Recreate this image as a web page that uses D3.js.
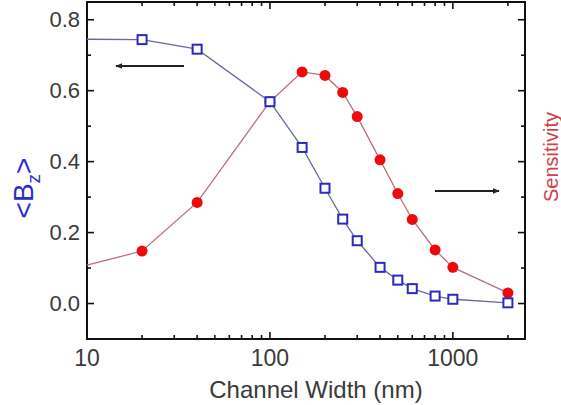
<!DOCTYPE html>
<html>
<head>
<meta charset="utf-8">
<script src="https://cdn.jsdelivr.net/npm/d3@7"></script>
<style>
  body { margin: 0; background: #fff; }
  text { font-family: "Liberation Sans", Arial, sans-serif; }
</style>
</head>
<body>
<svg id="chart" width="561" height="405"></svg>
<script>
// channel widths (nm) and the two series
let widths = [10, 20, 40, 100, 150, 200, 250, 300, 400, 500, 600, 800, 1000, 2000];
let bzValues = [0.745, 0.744, 0.717, 0.569, 0.440, 0.325, 0.238, 0.177, 0.102, 0.066, 0.042, 0.021, 0.012, 0.002];
let sensValues = [0.108, 0.148, 0.285, 0.569, 0.653, 0.643, 0.595, 0.527, 0.405, 0.310, 0.237, 0.151, 0.102, 0.030];
let xTickLabels = [10, 100, 1000];
let yTickLabels = [0.0, 0.2, 0.4, 0.6, 0.8];

let svg = d3.select("#chart");
let plotLeft = 87, plotRight = 525, plotTop = 2, plotBottom = 339;

let xScale = d3.scaleLog().domain([10, 2480]).range([plotLeft, plotRight]);
let yScale = d3.scaleLinear().domain([-0.1, 0.85]).range([plotBottom, plotTop]);

let bz = widths.map((w, i) => ({ w: w, v: bzValues[i] }));
let sens = widths.map((w, i) => ({ w: w, v: sensValues[i] }));

// minor tick positions on x: 20..90, 200..900, 2000
let xMinor = [];
for (let dec of [10, 100, 1000]) {
    for (let k = 2; k <= 9; k++) {
        if (dec * k <= 2480) xMinor.push(dec * k);
    }
}
let yMinor = d3.range(-0.1, 0.85, 0.1).map(v => +v.toFixed(1)).filter(v => yTickLabels.indexOf(v) < 0);

// ticks (inward) on all four sides
let ticks = svg.append("g").attr("stroke", "#111").attr("stroke-width", 1.6);
function xTicks(y, dir) {
    ticks.selectAll(null).data(xTickLabels).enter().append("line")
        .attr("x1", d => xScale(d)).attr("x2", d => xScale(d))
        .attr("y1", y).attr("y2", y + dir * 7);
    ticks.selectAll(null).data(xMinor).enter().append("line")
        .attr("x1", d => xScale(d)).attr("x2", d => xScale(d))
        .attr("y1", y).attr("y2", y + dir * 4);
}
function yTicks(x, dir) {
    ticks.selectAll(null).data(yTickLabels).enter().append("line")
        .attr("y1", d => yScale(d)).attr("y2", d => yScale(d))
        .attr("x1", x).attr("x2", x + dir * 7);
    ticks.selectAll(null).data(yMinor).enter().append("line")
        .attr("y1", d => yScale(d)).attr("y2", d => yScale(d))
        .attr("x1", x).attr("x2", x + dir * 4);
}
xTicks(plotBottom, -1);
xTicks(plotTop, 1);
yTicks(plotLeft, 1);
yTicks(plotRight, -1);

svg.append("rect")
    .attr("x", plotLeft).attr("y", plotTop)
    .attr("width", plotRight - plotLeft).attr("height", plotBottom - plotTop)
    .attr("fill", "none").attr("stroke", "#111").attr("stroke-width", 2);

// tick labels
svg.append("g").selectAll("text").data(yTickLabels).enter().append("text")
    .attr("x", 80).attr("y", d => yScale(d) + 7.5)
    .attr("text-anchor", "end")
    .attr("font-size", 22).attr("fill", "#3a3a3a")
    .text(d => d.toFixed(1));

svg.append("g").selectAll("text").data(xTickLabels).enter().append("text")
    .attr("x", d => xScale(d)).attr("y", 366)
    .attr("text-anchor", "middle")
    .attr("font-size", 23).attr("fill", "#3a3a3a")
    .text(d => d);

svg.append("text")
    .attr("x", 316).attr("y", 398)
    .attr("text-anchor", "middle")
    .attr("font-size", 24).attr("fill", "#3a3a3a")
    .text("Channel Width (nm)");

// axis titles
let bzLabel = svg.append("text")
    .attr("transform", "translate(33,188) rotate(-90)")
    .attr("text-anchor", "middle")
    .attr("font-size", 28).attr("fill", "#2a2ad2");
bzLabel.append("tspan").text("<B");
bzLabel.append("tspan").attr("font-size", 19).attr("dy", 7).text("z");
bzLabel.append("tspan").attr("dy", -7).text(">");

svg.append("text")
    .attr("transform", "translate(558,157) rotate(-90)")
    .attr("text-anchor", "middle")
    .attr("font-size", 20).attr("fill", "#d2404a")
    .text("Sensitivity");

// lines
let line = d3.line()
    .x(d => xScale(d.w))
    .y(d => yScale(d.v));

svg.append("path").datum(sens)
    .attr("d", line)
    .attr("fill", "none").attr("stroke", "#b8707a").attr("stroke-width", 1.3);

svg.append("path").datum(bz)
    .attr("d", line)
    .attr("fill", "none").attr("stroke", "#6a6a9c").attr("stroke-width", 1.3);

// markers (the x = 10 ends have no marker)
svg.append("g").selectAll("circle").data(sens.filter(d => d.w > 10)).enter().append("circle")
    .attr("cx", d => xScale(d.w)).attr("cy", d => yScale(d.v))
    .attr("r", 5.5).attr("fill", "#ee0a0a");

svg.append("g").selectAll("rect").data(bz.filter(d => d.w > 10)).enter().append("rect")
    .attr("x", d => xScale(d.w) - 4.5).attr("y", d => yScale(d.v) - 4.5)
    .attr("width", 9).attr("height", 9)
    .attr("fill", "#fff").attr("stroke", "#2a2ac0").attr("stroke-width", 2);

// arrows pointing to each series' axis
let defs = svg.append("defs");
defs.append("marker")
    .attr("id", "head").attr("viewBox", "0 0 10 10")
    .attr("refX", 9).attr("refY", 5)
    .attr("markerWidth", 4).attr("markerHeight", 4)
    .attr("orient", "auto")
    .append("path").attr("d", "M0,1 L10,5 L0,9 Z").attr("fill", "#222");

let arrows = [
    { x1: 184, x2: 116, y: 66 },
    { x1: 435, x2: 499, y: 191 }
];
svg.append("g").selectAll("line").data(arrows).enter().append("line")
    .attr("x1", d => d.x1).attr("x2", d => d.x2)
    .attr("y1", d => d.y).attr("y2", d => d.y)
    .attr("stroke", "#222").attr("stroke-width", 1.8)
    .attr("marker-end", "url(#head)");
</script>
</body>
</html>
